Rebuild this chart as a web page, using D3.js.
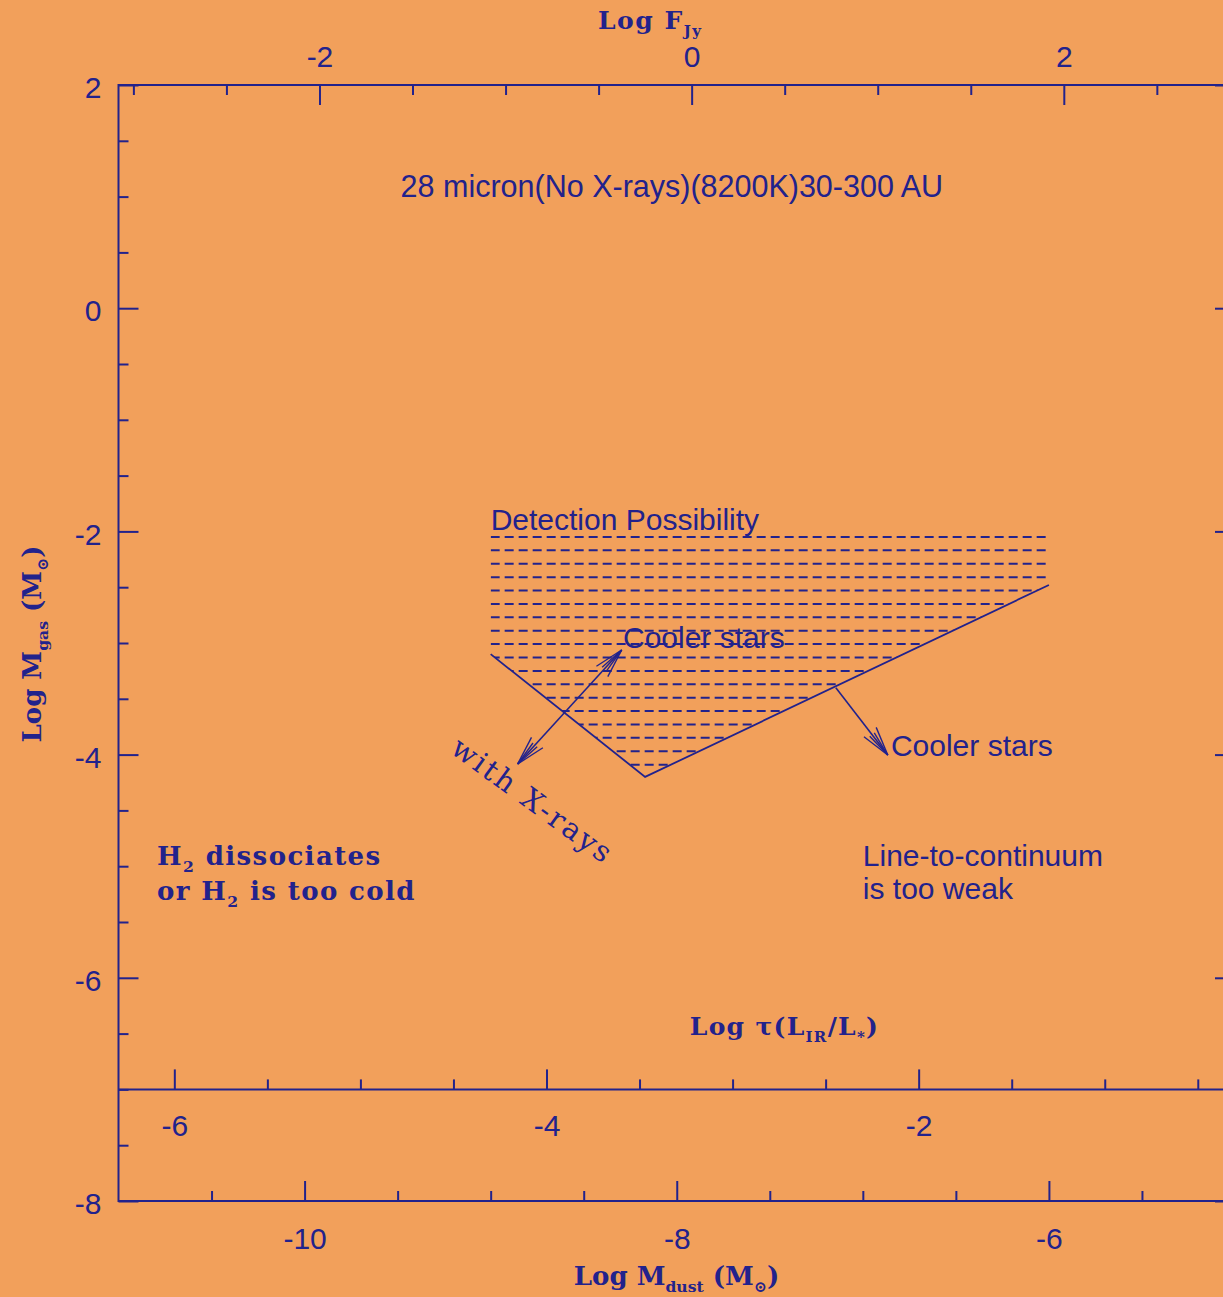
<!DOCTYPE html>
<html>
<head>
<meta charset="utf-8">
<script src="https://cdn.jsdelivr.net/npm/d3@7"></script>
<style>
  html, body { margin: 0; padding: 0; background: #f2a05b; }
  svg { display: block; }
</style>
</head>
<body>
<svg id="chart" width="1223" height="1297"></svg>
<script>
// ---- axis domains ----
const dustDomain = [-11, -5];      // log M_dust (bottom)
const gasDomain  = [-8, 2];        // log M_gas  (left / right)
const fluxDomain = [-3.08, 2.92];  // log F_Jy   (top)
const tauDomain  = [-6.30, -0.30]; // log tau    (inner axis)

// ---- labelled ticks ----
const dustMajor = [-10, -8, -6];
const gasMajor  = [2, 0, -2, -4, -6, -8];
const fluxMajor = [-2, 0, 2];
const tauMajor  = [-6, -4, -2];
const tauAxisLevel = -7;           // gas value where the tau axis sits

// ---- detection region (log M_dust, log M_gas) ----
const regionTop  = -2.05;
const regionLeft = -9.0;
const regionRight = -6.0;
const regionEdge = [[-9.0, -3.10], [-8.17, -4.20], [-6.0, -2.48]];
const hatchLevels = [-2.05, -2.17, -2.29, -2.41, -2.53, -2.65, -2.77, -2.89, -3.01,
                     -3.13, -3.25, -3.37, -3.49, -3.61, -3.73, -3.85, -3.97, -4.09];

// ---- arrows (tail/head pairs) ----
const xrayArrow = [[-8.296, -3.063], [-8.855, -4.084]];  // double headed
const coolArrow = [[-7.145, -3.400], [-6.866, -4.004]];  // single head

const ink = "#22228c";
const sans = "'Liberation Sans', Arial, Helvetica, sans-serif";
const serif = "'DejaVu Serif', serif";

const svg = d3.select("#chart");
const L = 118.5, R = 1235, T = 85, B = 1201;

const x    = d3.scaleLinear().domain(dustDomain).range([L, R]);
const y    = d3.scaleLinear().domain(gasDomain).range([B, T]);
const xTop = d3.scaleLinear().domain(fluxDomain).range([L, R]);
const xTau = d3.scaleLinear().domain(tauDomain).range([L, R]);

const halfSteps = (lo, hi, skip) =>
  d3.range(lo, hi + 0.001, 0.5).filter(v => !skip.some(s => Math.abs(s - v) < 1e-6));

const fmt = d => String(d);

function styleAxis(g, labels) {
  g.select(".domain").remove();
  g.selectAll(".tick line").attr("stroke", ink).attr("stroke-width", 2);
  g.selectAll(".tick text")
    .attr("fill", ink)
    .style("font-family", sans)
    .style("font-size", "30px");
  if (!labels) g.selectAll(".tick text").remove();
}

// top: log F_Jy
svg.append("g").attr("transform", `translate(0,${T})`)
  .call(d3.axisTop(xTop).tickValues(fluxMajor).tickSize(-20).tickPadding(18).tickFormat(fmt))
  .call(g => styleAxis(g, true));
svg.append("g").attr("transform", `translate(0,${T})`)
  .call(d3.axisTop(xTop).tickValues(halfSteps(-3, 2.5, fluxMajor)).tickSize(-10).tickFormat(""))
  .call(g => styleAxis(g, false));

// left: log M_gas
svg.append("g").attr("transform", `translate(${L},0)`)
  .call(d3.axisLeft(y).tickValues(gasMajor).tickSize(-20).tickPadding(17).tickFormat(fmt))
  .call(g => styleAxis(g, true))
  .call(g => g.selectAll(".tick text").attr("dy", "0.42em"));
svg.append("g").attr("transform", `translate(${L},0)`)
  .call(d3.axisLeft(y).tickValues(halfSteps(-8, 2, gasMajor)).tickSize(-10).tickFormat(""))
  .call(g => styleAxis(g, false));

// right: log M_gas (unlabelled)
svg.append("g").attr("transform", `translate(${R},0)`)
  .call(d3.axisRight(y).tickValues(gasMajor).tickSize(-20).tickFormat(""))
  .call(g => styleAxis(g, false));
svg.append("g").attr("transform", `translate(${R},0)`)
  .call(d3.axisRight(y).tickValues(halfSteps(-8, 2, gasMajor)).tickSize(-10).tickFormat(""))
  .call(g => styleAxis(g, false));

// bottom: log M_dust
svg.append("g").attr("transform", `translate(0,${B})`)
  .call(d3.axisBottom(x).tickValues(dustMajor).tickSize(-20).tickPadding(27).tickFormat(fmt))
  .call(g => styleAxis(g, true));
svg.append("g").attr("transform", `translate(0,${B})`)
  .call(d3.axisBottom(x).tickValues(halfSteps(-10.5, -5.5, dustMajor)).tickSize(-10).tickFormat(""))
  .call(g => styleAxis(g, false));

// inner: log tau
const yTau = y(tauAxisLevel);
svg.append("g").attr("transform", `translate(0,${yTau})`)
  .call(d3.axisBottom(xTau).tickValues(tauMajor).tickSize(-20).tickPadding(25).tickFormat(fmt))
  .call(g => styleAxis(g, true));
svg.append("g").attr("transform", `translate(0,${yTau})`)
  .call(d3.axisBottom(xTau).tickValues(halfSteps(-6, -0.5, tauMajor)).tickSize(-10).tickFormat(""))
  .call(g => styleAxis(g, false));

// frame and tau baseline
svg.append("rect")
  .attr("x", L).attr("y", T).attr("width", R - L).attr("height", B - T)
  .attr("fill", "none").attr("stroke", ink).attr("stroke-width", 2);
svg.append("line")
  .attr("x1", L).attr("x2", R).attr("y1", yTau).attr("y2", yTau)
  .attr("stroke", ink).attr("stroke-width", 2);

// ---- detection region hatching ----
const regionPoly = [[regionLeft, regionTop + 0.03], [regionRight, regionTop + 0.03]]
  .concat(regionEdge.slice().reverse());
svg.append("defs").append("clipPath").attr("id", "regionClip")
  .append("polygon")
  .attr("points", regionPoly.map(p => [x(p[0]), y(p[1])].join(",")).join(" "));

svg.append("g").attr("clip-path", "url(#regionClip)")
  .selectAll("line").data(hatchLevels).join("line")
  .attr("x1", x(regionLeft)).attr("x2", x(regionRight))
  .attr("y1", d => y(d)).attr("y2", d => y(d))
  .attr("stroke", ink).attr("stroke-width", 2)
  .attr("stroke-dasharray", "9,5");

const line = d3.line().x(d => x(d[0])).y(d => y(d[1]));
svg.append("path").attr("d", line(regionEdge))
  .attr("fill", "none").attr("stroke", ink).attr("stroke-width", 1.8);

// ---- arrows ----
function arrowHead(tip, from) {
  const tx = x(tip[0]), ty = y(tip[1]);
  const ang = Math.atan2(y(from[1]) - ty, x(from[0]) - tx);
  const barbs = [[0.26, 30], [-0.26, 30], [0.11, 26], [-0.11, 26]];
  barbs.forEach(([da, len]) => {
    svg.append("line")
      .attr("x1", tx).attr("y1", ty)
      .attr("x2", tx + len * Math.cos(ang + da))
      .attr("y2", ty + len * Math.sin(ang + da))
      .attr("stroke", ink).attr("stroke-width", 1.4);
  });
}
function arrowShaft(a) {
  svg.append("path").attr("d", line(a))
    .attr("fill", "none").attr("stroke", ink).attr("stroke-width", 1.6);
}
arrowShaft(xrayArrow);
arrowHead(xrayArrow[0], xrayArrow[1]);
arrowHead(xrayArrow[1], xrayArrow[0]);
arrowShaft(coolArrow);
arrowHead(coolArrow[1], coolArrow[0]);

// ---- annotations ----
function sansText(str, dx, dy, size) {
  svg.append("text").attr("x", x(dx)).attr("y", y(dy))
    .attr("fill", ink).style("font-family", sans).style("font-size", (size || 30) + "px")
    .text(str);
}
sansText("28 micron(No X-rays)(8200K)30-300 AU", -9.484, 1.0, 30.5);
sansText("Detection Possibility", -9.0, -1.99);
sansText("Cooler stars", -8.289, -3.045);
sansText("Cooler stars", -6.849, -4.013);
sansText("Line-to-continuum", -7.0, -5.0);
sansText("is too weak", -7.0, -5.29);

// serif text with subscripts: parts = [[text, isSub], ...]
function richText(parent, parts, size, weight, spacing) {
  const t = parent.append("text").attr("fill", ink)
    .style("font-family", serif).style("font-size", size + "px").style("font-weight", weight)
    .style("letter-spacing", (spacing || 0) + "px");
  let sub = false;
  parts.forEach(([s, isSub]) => {
    const ts = t.append("tspan").text(s);
    if (isSub && !sub) ts.attr("dy", size * 0.28).style("font-size", (size * 0.6) + "px");
    else if (isSub) ts.style("font-size", (size * 0.6) + "px");
    else if (!isSub && sub) ts.attr("dy", -size * 0.28);
    sub = isSub;
  });
  return t;
}

richText(svg, [["H", false], ["2", true], [" dissociates", false]], 26, "bold", 1.4)
  .attr("x", x(-10.793)).attr("y", y(-4.99));
richText(svg, [["or H", false], ["2", true], [" is too cold", false]], 26, "bold", 1.4)
  .attr("x", x(-10.793)).attr("y", y(-5.30));

richText(svg, [["Log \u03c4(L", false], ["IR", true], ["/L", false], ["*", true], [")", false]], 25, "bold", 1.3)
  .attr("x", x(-7.93)).attr("y", y(-6.51));

svg.append("text")
  .attr("transform", `translate(${x(-9.224)},${y(-3.977)}) rotate(36)`)
  .attr("fill", ink).style("font-family", serif).style("font-size", "29px")
  .attr("textLength", 190).attr("lengthAdjust", "spacing")
  .text("with X-rays");

// axis titles
richText(svg, [["Log F", false], ["Jy", true]], 25, "bold", 1.5)
  .attr("x", 598).attr("y", 29);
richText(svg, [["Log M", false], ["dust", true], [" (M", false], ["\u2299", true], [")", false]], 26, "bold")
  .attr("text-anchor", "middle")
  .attr("x", 676.5).attr("y", 1285);
richText(svg, [["Log M", false], ["gas", true], [" (M", false], ["\u2299", true], [")", false]], 26, "bold")
  .attr("text-anchor", "middle")
  .attr("transform", "translate(41,644) rotate(-90)");
</script>
</body>
</html>
